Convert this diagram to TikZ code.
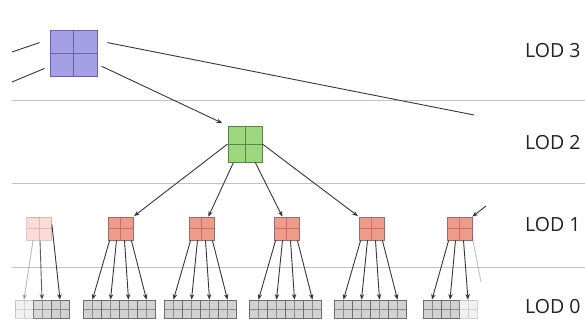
\documentclass[tikz,border=0pt]{standalone}
\usepackage{fontspec}
\setmainfont{Open Sans}
\usetikzlibrary{arrows.meta,calc}
\definecolor{purpF}{RGB}{165,160,228}
\definecolor{purpB}{RGB}{105,98,175}
\definecolor{greenF}{RGB}{158,214,125}
\definecolor{greenB}{RGB}{85,135,65}
\definecolor{redF}{RGB}{238,155,140}
\definecolor{redB}{RGB}{150,110,105}
\definecolor{redL}{RGB}{205,110,95}
\definecolor{cellF}{RGB}{210,210,210}
\definecolor{cellB}{RGB}{110,110,110}
\definecolor{lineC}{RGB}{55,55,55}
\definecolor{hlC}{RGB}{195,195,195}
\definecolor{txtC}{RGB}{35,35,35}
\tikzset{
  quad/.style n args={2}{rectangle, draw=#1, fill=#2, inner sep=0pt, line width=0.8pt,
    path picture={\draw[#1, line width=0.8pt] (path picture bounding box.north)--(path picture bounding box.south)
      (path picture bounding box.west)--(path picture bounding box.east);}},
  purplebox/.style={quad={purpB}{purpF}, minimum width=47, minimum height=46},
  greenbox/.style={quad={greenB}{greenF}, minimum width=34, minimum height=36},
  redbox/.style={quad={redL}{redF}, draw=redB, minimum width=25, minimum height=23},
  cellbox/.style={quad={cellB!80}{cellF}, draw=cellB, minimum width=18, minimum height=18},
  arr/.style={draw=lineC, line width=0.9pt, -{Stealth[length=5.5pt,width=4.5pt]}},
  ln/.style={draw=lineC, line width=0.9pt},
  hl/.style={draw=hlC, line width=0.8pt},
  lab/.style={anchor=west, text=txtC, font=\fontsize{19.5}{19.5}\selectfont, inner sep=0pt}
}
\begin{document}
\begin{tikzpicture}[x=1pt,y=-1pt]
\useasboundingbox (0,0) rectangle (585,328);
\fill[white] (0,0) rectangle (585,328);
% level separators
\draw[hl] (12,100) -- (585,100);
\draw[hl] (12,183) -- (585,183);
\draw[hl] (12,267) -- (585,267);
% labels
\node[lab] (t3) at (525,51) {LOD 3};
\node[lab] (t2) at (525,143) {LOD 2};
\node[lab] (t1) at (525,225) {LOD 1};
\node[lab] (t0) at (525,307) {LOD 0};
% LOD 3
\node[purplebox] (l3) at (73.5,53) {};
\coordinate (w1) at (12,52);
\coordinate (w2) at (12,82);
\coordinate (e1) at (474,115);
\draw[ln] (w1) -- ([shift={(-10,13)}]l3.north west);
\draw[ln] (w2) -- ([shift={(-5,-8)}]l3.south west);
\draw[ln] ([shift={(10,13)}]l3.north east) -- (e1);
% LOD 2
\node[greenbox] (l2) at (245,144) {};
\draw[arr, shorten <=31pt, shorten >=6pt] (l3.center) -- (l2.north west);
% LOD 1 and LOD 0, full groups
\foreach \i/\cx in {2/120.5,3/201.5,4/286.5,5/371.5}{
  \node[redbox] (r\i) at (\cx,228.5) {};
  \foreach \j/\dx in {1/-27,2/-9,3/9,4/27}{
    \node[cellbox] (c\i\j) at ({\cx+\dx-1},309) {};
  }
  \draw[arr] ([shift={(2,0)}]r\i.south west) -- (c\i1.north);
  \draw[arr] ([shift={(-4,0)}]r\i.south) -- (c\i2.north);
  \draw[arr] ([shift={(4,0)}]r\i.south) -- (c\i3.north);
  \draw[arr] ([shift={(-2,0)}]r\i.south east) -- (c\i4.north);
}
\draw[arr, shorten >=1pt] (l2.west) -- (r2.north east);
\draw[arr] (l2.-122) -- (r3.60);
\draw[arr] (l2.-61) -- (r4.109);
\draw[arr, shorten >=1pt] (l2.east) -- (r5.north west);
% faded left group
\node[redbox, opacity=0.35] (r1) at (39,228.5) {};
\node[cellbox, opacity=0.3] (c11) at (24,309) {};
\node[cellbox, opacity=0.85] (c12) at (42,309) {};
\node[cellbox] (c13) at (60,309) {};
\draw[arr, opacity=0.35] ([shift={(-6,0)}]r1.south) -- (c11.north);
\draw[arr, opacity=0.8] ([shift={(1,0)}]r1.south) -- (c12.north);
\draw[arr] ([shift={(0,-4)}]r1.east) -- (c13.north);
% faded right group
\node[redbox] (r6) at (459.5,228.5) {};
\node[cellbox] (c61) at (432,309) {};
\node[cellbox] (c62) at (450,309) {};
\node[cellbox, opacity=0.3] (c63) at (468,309) {};
\coordinate (n6) at (486,206);
\coordinate (f6) at (481,282);
\draw[arr] (n6) -- (r6.north east);
\draw[arr] ([shift={(2,0)}]r6.south west) -- (c61.north);
\draw[arr] ([shift={(-4,0)}]r6.south) -- (c62.north);
\draw[arr] ([shift={(4,0)}]r6.south) -- (c63.north);
\draw[ln, opacity=0.3] ([shift={(0,-3)}]r6.south east) -- (f6);
\end{tikzpicture}
\end{document}
